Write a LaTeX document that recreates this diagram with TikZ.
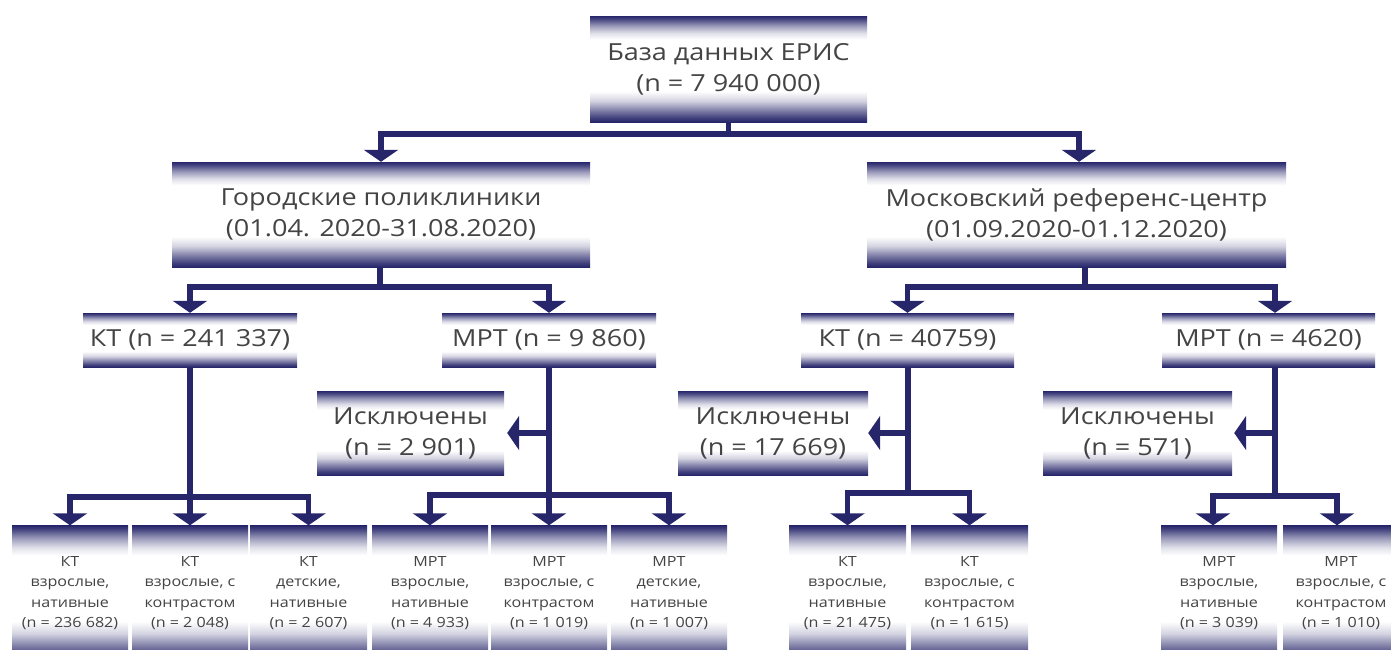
\documentclass[tikz,border=0pt]{standalone}
\usepackage{fontspec}
\setmainfont[FakeStretch=1.15]{Open Sans}
\usetikzlibrary{arrows.meta}
\definecolor{nv}{HTML}{27266B}
\definecolor{txt}{HTML}{444444}
\pgfdeclareverticalshading{boxshade}{100bp}{color(0bp)=(nv); color(25bp)=(nv); color(27bp)=(nv!88); color(31bp)=(nv!55); color(35bp)=(nv!20); color(39.5bp)=(white); color(64bp)=(white); color(67bp)=(nv!15); color(70.5bp)=(nv!48); color(73.5bp)=(nv!85); color(75bp)=(nv); color(100bp)=(nv)}
\tikzset{
  box/.style={rectangle, shading=boxshade, inner sep=0pt, align=center, text=txt},
  big/.style={box, font=\fontsize{23.5}{31}\selectfont},
  small/.style={box, font=\fontsize{14}{20.5}\selectfont},
  conn/.style={draw=nv, line width=5.5pt},
  arr/.style={conn, -{Triangle[width=34pt,length=12pt]}}
}
\begin{document}
\begin{tikzpicture}[x=1pt,y=-1pt]
\useasboundingbox (0,0) rectangle (1391,649);
\clip (0,0) rectangle (1391,649);
% level 0
\node[big, minimum width=277pt, minimum height=106pt] (db) at (728.5,69) {База данных ЕРИС\\(n = 7 940 000)};
% level 1
\node[big, minimum width=418pt, minimum height=105pt] (gp) at (381,214.5) {Городские поликлиники\\(01.04. 2020-31.08.2020)};
\node[big, minimum width=419pt, minimum height=105pt] (mc) at (1076.5,214.5) {Московский референс-центр\\(01.09.2020-01.12.2020)};
% level 2
\node[big, minimum width=214pt, minimum height=54pt] (kt1) at (190,340) {КТ (n = 241 337)};
\node[big, minimum width=214pt, minimum height=54pt] (mrt1) at (549,340) {МРТ (n = 9 860)};
\node[big, minimum width=213pt, minimum height=54pt] (kt2) at (907.5,340) {КТ (n = 40759)};
\node[big, minimum width=213pt, minimum height=54pt] (mrt2) at (1268.5,340) {МРТ (n = 4620)};
% excluded
\node[big, minimum width=187pt, minimum height=84pt] (ex1) at (410.5,433) {Исключены\\(n = 2 901)};
\node[big, minimum width=190pt, minimum height=84pt] (ex2) at (773,433) {Исключены\\(n = 17 669)};
\node[big, minimum width=189pt, minimum height=84pt] (ex3) at (1137.5,433) {Исключены\\(n = 571)};
% bottom row
\node[small, minimum width=116pt, minimum height=135pt] (b1) at (70,593) {КТ\\взрослые,\\нативные\\(n = 236 682)};
\node[small, minimum width=116pt, minimum height=135pt] (b2) at (190,593) {КТ\\взрослые, с\\контрастом\\(n = 2 048)};
\node[small, minimum width=117pt, minimum height=135pt] (b3) at (308.5,593) {КТ\\детские,\\нативные\\(n = 2 607)};
\node[small, minimum width=116pt, minimum height=135pt] (b4) at (430,593) {МРТ\\взрослые,\\нативные\\(n = 4 933)};
\node[small, minimum width=116pt, minimum height=135pt] (b5) at (549,593) {МРТ\\взрослые, с\\контрастом\\(n = 1 019)};
\node[small, minimum width=116pt, minimum height=135pt] (b6) at (669,593) {МРТ\\детские,\\нативные\\(n = 1 007)};
\node[small, minimum width=117pt, minimum height=135pt] (b7) at (847.5,593) {КТ\\взрослые,\\нативные\\(n = 21 475)};
\node[small, minimum width=117pt, minimum height=135pt] (b8) at (969.5,593) {КТ\\взрослые, с\\контрастом\\(n = 1 615)};
\node[small, minimum width=116pt, minimum height=135pt] (b9) at (1219,593) {МРТ\\взрослые,\\нативные\\(n = 3 039)};
\node[small, minimum width=116pt, minimum height=135pt] (b10) at (1341,593) {МРТ\\взрослые, с\\контрастом\\(n = 1 010)};
% connectors level 0 -> 1
\draw[arr] (db.south) -- ++(0,12) -| (gp.north);
\draw[arr] (db.south) -- ++(0,12) -| ([xshift=2.5pt]mc.north);
% level 1 -> 2
\draw[arr] ([xshift=-1pt]gp.south) -- ++(0,20) -| (kt1.north);
\draw[arr] ([xshift=-1pt]gp.south) -- ++(0,20) -| (mrt1.north);
\draw[arr] ([xshift=8.5pt]mc.south) -- ++(0,20) -| (kt2.north);
\draw[arr] ([xshift=8.5pt]mc.south) -- ++(0,20) -| ([xshift=6.5pt]mrt2.north);
% KT 241337
\draw[arr] (kt1.south) -- ++(0,130) -| (b1.north);
\draw[arr] (kt1.south) -- (b2.north);
\draw[arr] (kt1.south) -- ++(0,130) -| (b3.north);
% MRT 9860
\draw[arr] (mrt1.south |- ex1.east) -- ([xshift=3pt]ex1.east);
\draw[arr] (mrt1.south) -- ++(0,128) -| (b4.north);
\draw[arr] (mrt1.south) -- (b5.north);
\draw[arr] (mrt1.south) -- ++(0,128) -| (b6.north);
% KT 40759
\draw[arr] ([xshift=0.5pt]kt2.south |- ex2.east) -- (ex2.east);
\draw[arr] ([xshift=0.5pt]kt2.south) -- ++(0,126) -| (b7.north);
\draw[arr] ([xshift=0.5pt]kt2.south) -- ++(0,126) -| (b8.north);
% MRT 4620
\draw[arr] ([xshift=6.5pt]mrt2.south |- ex3.east) -- ([xshift=2pt]ex3.east);
\draw[arr] ([xshift=6.5pt]mrt2.south) -- ++(0,129) -| ([xshift=-6pt]b9.north);
\draw[arr] ([xshift=6.5pt]mrt2.south) -- ++(0,129) -| ([xshift=-4pt]b10.north);
\end{tikzpicture}
\end{document}
